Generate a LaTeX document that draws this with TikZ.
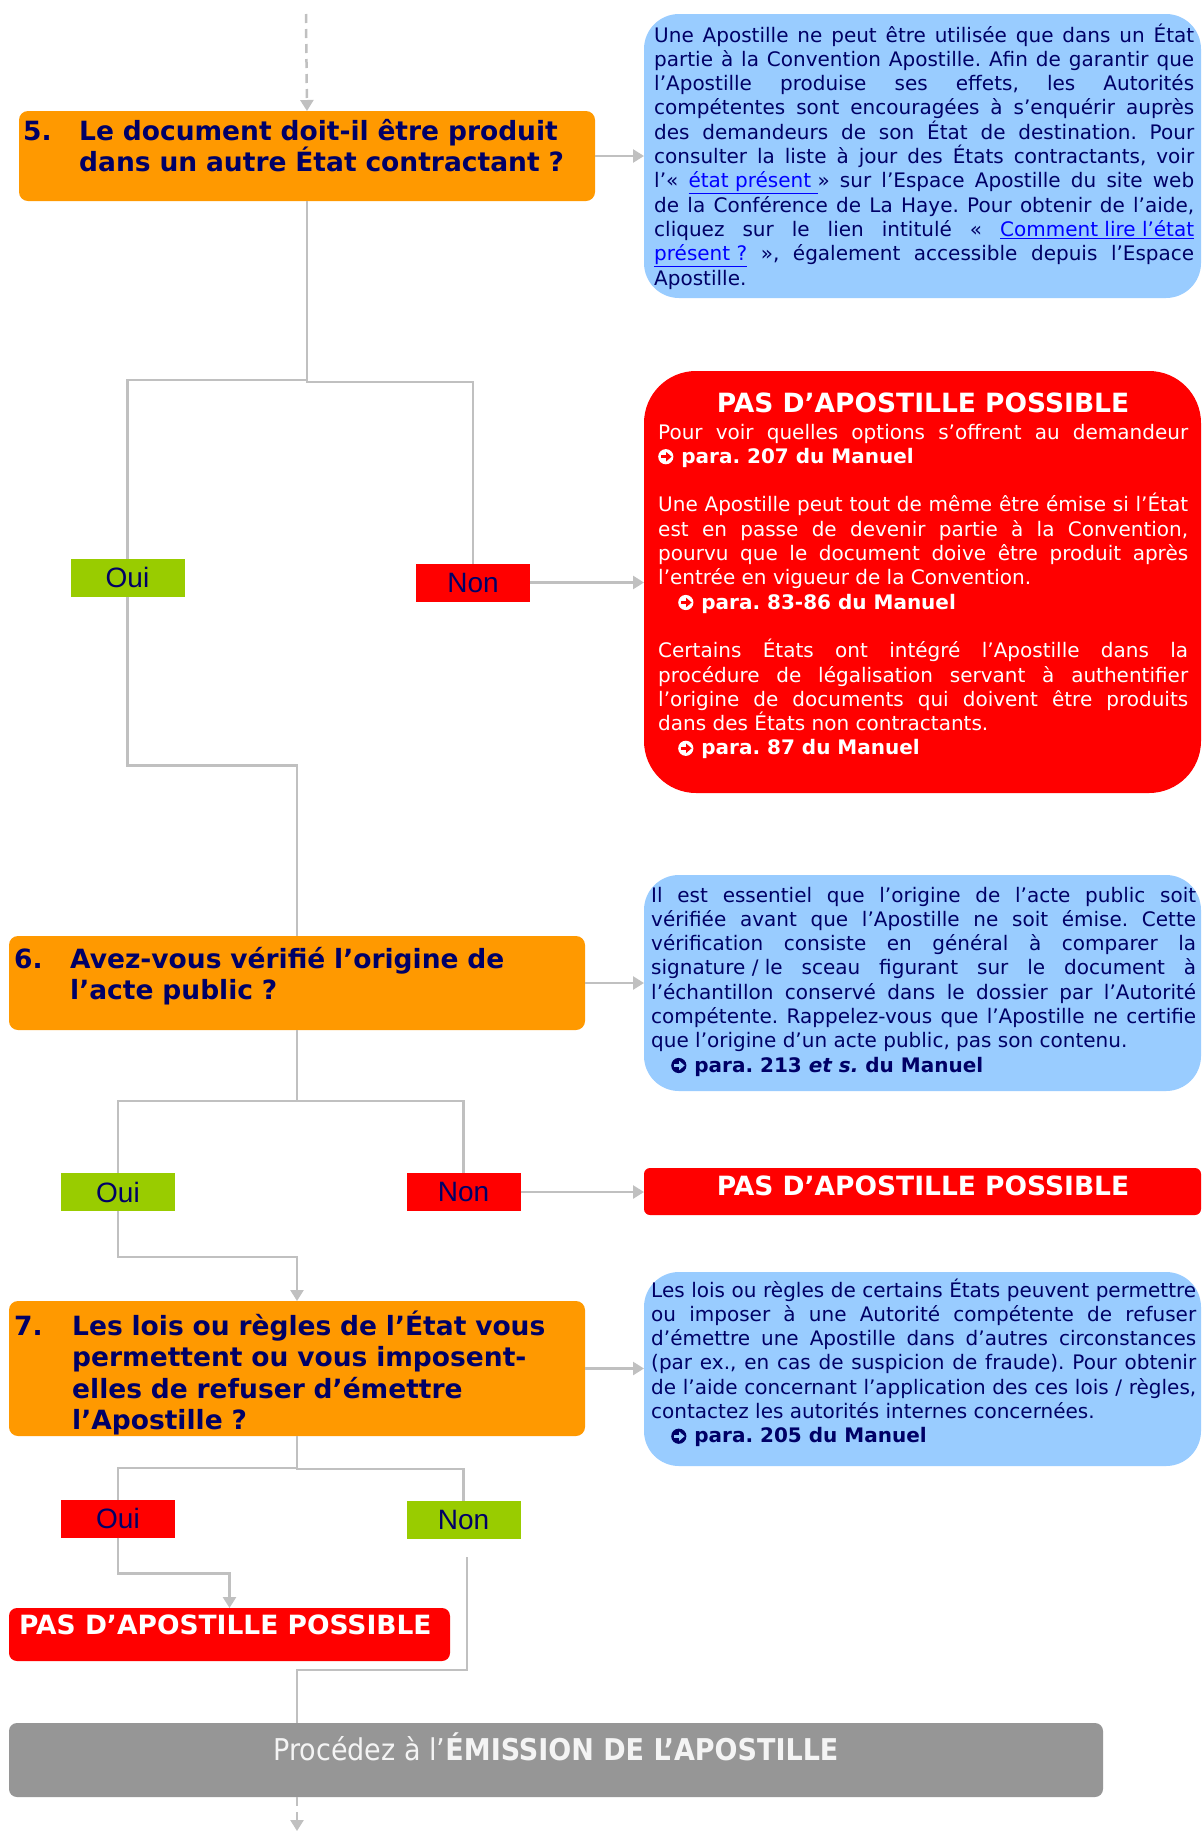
\documentclass[tikz,border=0pt]{standalone}
\usepackage{fontspec}
\setmainfont{DejaVu Sans}
\newfontfamily\arialf{Liberation Sans}
\newfontfamily\condf{DejaVu Sans Condensed}
\usetikzlibrary{arrows.meta}
\definecolor{navy}{HTML}{000066}
\definecolor{orangebox}{HTML}{FF9900}
\definecolor{bluebox}{HTML}{99CCFF}
\definecolor{redbox}{HTML}{FF0000}
\definecolor{greenbox}{HTML}{99CC00}
\definecolor{connc}{HTML}{C0C0C0}
\definecolor{greybox}{HTML}{969696}
\definecolor{greytxt}{HTML}{F4F4F4}
\definecolor{linkblue}{HTML}{0000FF}
\frenchspacing
\newcommand\jl[1]{\makebox[\linewidth][s]{#1}\\}
\newcommand\lnk[1]{{\color{linkblue}\underline{#1}}}
% circled arrow symbol: #1 circle colour, #2 arrow colour
\newcommand\circarrow[2]{\tikz[baseline=0pt]{\fill[#1] (0pt,6.6pt) circle (7.6pt);
  \draw[#2, line width=2.8pt, -{Triangle[length=5.4pt,width=9pt]}] (-4.8pt,6.6pt) -- (5.8pt,6.6pt);}}
\newcommand\manref[3]{{\bfseries\circarrow{#1}{#2}\hspace{0.4em}#3}}
\tikzset{
  shapebox/.style={inner sep=0pt, outer sep=0pt, anchor=north west},
  qbox/.style={shapebox, fill=orangebox, rounded corners=9pt},
  infobox/.style={shapebox, fill=bluebox, rounded corners=35pt},
  ttl/.style={font=\bfseries\fontsize{26.5}{31.5}\selectfont, text=navy, inner sep=0pt, anchor=base west, align=left},
  body/.style={font=\fontsize{20}{24.3}\selectfont, text=navy, inner sep=0pt, anchor=base west, align=justify},
  pas/.style={font=\bfseries\fontsize{26.5}{32}\selectfont, text=white, inner sep=0pt},
  yn/.style={font=\arialf\fontsize{28}{34}\selectfont, text=navy, inner sep=0pt, outer sep=0pt, minimum width=114pt, minimum height=38pt},
  conn/.style={draw=connc, line width=2.5pt},
  arr/.style={conn, -{Triangle[length=11pt,width=13pt]}},
  dasharr/.style={conn, dash pattern=on 9pt off 6pt, -{Triangle[length=11pt,width=13pt]}},
}
\begin{document}
\begin{tikzpicture}[x=1pt,y=-1pt]
\useasboundingbox[fill=white] (0,0) rectangle (1202,1832);

% ---------- boxes ----------
\node[qbox, minimum width=576pt, minimum height=90pt] (b5) at (19,111) {};
\node[infobox, minimum width=557pt, minimum height=284pt] (blue1) at (644,14) {};
\node[shapebox, fill=redbox, rounded corners=52pt, minimum width=557pt, minimum height=422pt] (red1) at (644,371) {};
\node[qbox, minimum width=576pt, minimum height=94pt] (b6) at (9,936) {};
\node[infobox, minimum width=557pt, minimum height=216pt] (blue2) at (644,875) {};
\node[shapebox, fill=redbox, rounded corners=6pt, minimum width=557pt, minimum height=47pt] (red2) at (644,1168) {};
\node[qbox, minimum width=576pt, minimum height=135pt] (b7) at (9,1301) {};
\node[infobox, minimum width=557pt, minimum height=194pt] (blue3) at (644,1272) {};
\node[shapebox, fill=redbox, rounded corners=8pt, minimum width=441pt, minimum height=53pt] (red3) at (9,1608) {};
\node[shapebox, fill=greybox, rounded corners=8pt, minimum width=1094pt, minimum height=74pt] (grey) at (9,1723) {};

% ---------- yes / no labels ----------
\node[yn, fill=greenbox] (oui1) at (127.5,577.5) {Oui};
\node[yn, fill=redbox] (non1) at (473,582.5) {Non};
\node[yn, fill=greenbox] (oui2) at (118,1192) {Oui};
\node[yn, fill=redbox] (non2) at (463.5,1192) {Non};
\node[yn, fill=redbox] (oui3) at (118,1518.5) {Oui};
\node[yn, fill=greenbox] (non3) at (463.5,1519.5) {Non};

% ---------- question texts ----------
\node[ttl] (n5) at (23,140) {5.};
\node[ttl, text width=510pt] (t5) at (79,140) {Le document doit-il être produit\\dans un autre État contractant ?};
\node[ttl] (n6) at (14,968) {6.};
\node[ttl, text width=510pt] (t6) at (70,968) {Avez-vous vérifié l’origine de\\l’acte public ?};
\node[ttl] (n7) at (14,1335) {7.};
\node[ttl, text width=510pt] (t7) at (72,1335) {Les lois ou règles de l’État vous\\permettent ou vous imposent-\\elles de refuser d’émettre\\l’Apostille ?};

% ---------- info texts ----------
\node[body, text width=540pt] (tx1) at (654,42) {%
\jl{Une Apostille ne peut être utilisée que dans un État}
\jl{partie à la Convention Apostille. Afin de garantir que}
\jl{l’Apostille produise ses effets, les Autorités}
\jl{compétentes sont encouragées à s’enquérir auprès}
\jl{des demandeurs de son État de destination. Pour}
\jl{consulter la liste à jour des États contractants, voir}
\jl{l’« \lnk{état présent\ }» sur l’Espace Apostille du site web}
\jl{de la Conférence de La Haye. Pour obtenir de l’aide,}
\jl{cliquez sur le lien intitulé « \lnk{Comment lire l’état}}
\jl{\lnk{présent ?} », également accessible depuis l’Espace}
Apostille.};

\node[pas, anchor=base] (rt1) at (923,412) {PAS D’APOSTILLE POSSIBLE};
\node[body, text=white, text width=530pt] (tx2) at (658,439) {%
\jl{Pour voir quelles options s’offrent au demandeur}
\manref{white}{redbox}{para. 207 du Manuel}\\
\mbox{}\\
\jl{Une Apostille peut tout de même être émise si l’État}
\jl{est en passe de devenir partie à la Convention,}
\jl{pourvu que le document doive être produit après}
l’entrée en vigueur de la Convention.\\
\hspace*{20pt}\manref{white}{redbox}{para. 83-86 du Manuel}\\
\mbox{}\\
\jl{Certains États ont intégré l’Apostille dans la}
\jl{procédure de légalisation servant à authentifier}
\jl{l’origine de documents qui doivent être produits}
dans des États non contractants.\\
\hspace*{20pt}\manref{white}{redbox}{para. 87 du Manuel}};

\node[body, text width=545pt] (tx3) at (651,902) {%
\jl{Il est essentiel que l’origine de l’acte public soit}
\jl{vérifiée avant que l’Apostille ne soit émise. Cette}
\jl{vérification consiste en général à comparer la}
\jl{\hbox{signature / le} sceau figurant sur le document à}
\jl{l’échantillon conservé dans le dossier par l’Autorité}
\jl{compétente. Rappelez-vous que l’Apostille ne certifie}
que l’origine d’un acte public, pas son contenu.\\
\hspace*{20pt}\manref{navy}{bluebox}{para. 213 \textit{et s.} du Manuel}};

\node[pas, anchor=base] (rt2) at (923,1195) {PAS D’APOSTILLE POSSIBLE};

\node[body, text width=545pt] (tx4) at (651,1297) {%
\jl{Les lois ou règles de certains États peuvent permettre}
\jl{ou imposer à une Autorité compétente de refuser}
\jl{d’émettre une Apostille dans d’autres circonstances}
\jl{(par ex., en cas de suspicion de fraude). Pour obtenir}
\jl{de l’aide concernant l’application des ces lois / règles,}
contactez les autorités internes concernées.\\
\hspace*{20pt}\manref{navy}{bluebox}{para. 205 du Manuel}};

\node[pas, anchor=base west] (rt3) at (19,1634) {PAS D’APOSTILLE POSSIBLE};

\node[font=\condf\fontsize{30}{36}\selectfont, text=greytxt, inner sep=0pt, anchor=base] (gt) at (556,1760) {Procédez à l’\textbf{ÉMISSION DE L’APOSTILLE}};

% ---------- connectors ----------
\coordinate (topstart) at (306,14);
\draw[dasharr] (topstart) -- (b5.north);
\draw[arr] (b5.east) -- (blue1.west |- b5.east);
\draw[conn] (b5.south) -- ++(0,179) -| (oui1.north);
\draw[conn] (b5.south) -- ++(0,181) -| (non1.north);
\draw[arr] (non1.east) -- (red1.west |- non1.east);
\draw[conn] (oui1.south) -- ++(0,169) -| (b6.north);

\draw[arr] (b6.east) -- (blue2.west |- b6.east);
\draw[conn] (b6.south) -- ++(0,71) -| (oui2.north);
\draw[conn] (b6.south) -- ++(0,71) -| (non2.north);
\draw[arr] (non2.east) -- (red2.west |- non2.east);
\draw[arr] (oui2.south) -- ++(0,46) -| (b7.north);

\draw[arr] (b7.east) -- (blue3.west |- b7.east);
\draw[conn] (b7.south) -- ++(0,32) -| (oui3.north);
\draw[conn] (b7.south) -- ++(0,33) -| (non3.north);
\draw[arr] (oui3.south) -- ++(0,36) -| (red3.north);
\coordinate (n3s) at (467,1557);
\draw[conn] (n3s) -- ++(0,113) -| (b7.south |- grey.north);
\coordinate (bottomend) at (297,1831);
\draw[dasharr] (b7.south |- grey.south) -- (bottomend);
\end{tikzpicture}
\end{document}
